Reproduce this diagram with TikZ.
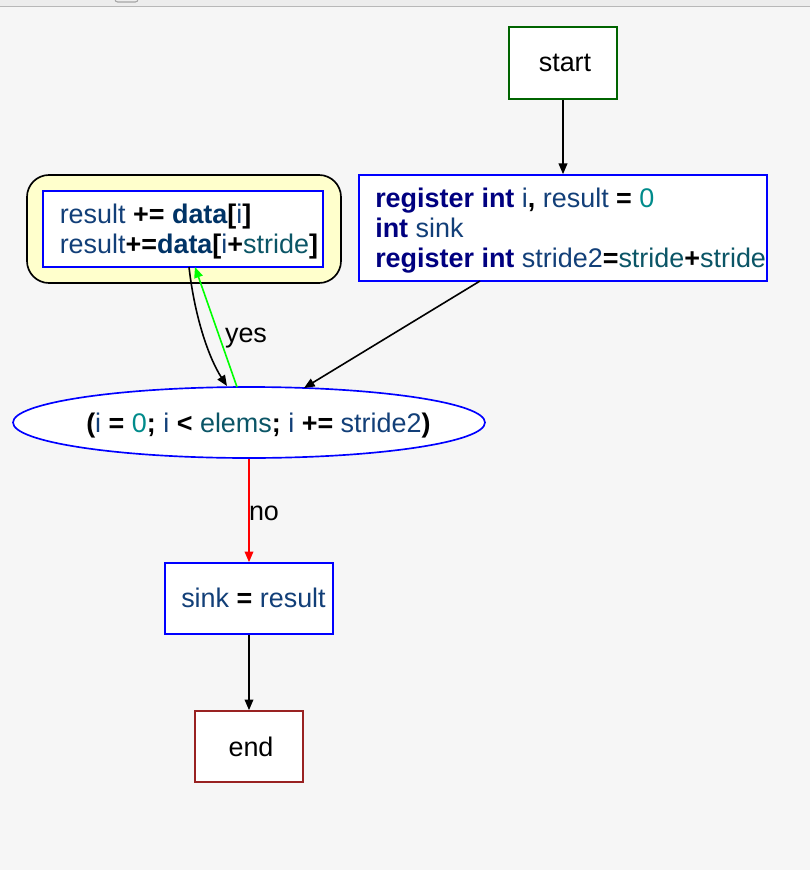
\documentclass[tikz,border=0pt]{standalone}
\usepackage{fontspec}
\setmainfont{Liberation Sans}
\usetikzlibrary{shapes.geometric,arrows.meta,positioning}
\definecolor{bg}{HTML}{F6F6F6}
\definecolor{kw}{HTML}{000080}
\definecolor{vr}{HTML}{123F78}
\definecolor{pr}{HTML}{0B5566}
\definecolor{nm}{HTML}{008B8B}
\definecolor{dt}{HTML}{003366}
\definecolor{startc}{HTML}{006400}
\definecolor{endc}{HTML}{992222}
\definecolor{loopfill}{HTML}{FFFFCC}
\newcommand{\K}[1]{\textbf{\textcolor{kw}{#1}}}
\newcommand{\V}[1]{\textcolor{vr}{#1}}
\newcommand{\Pm}[1]{\textcolor{pr}{#1}}
\newcommand{\N}[1]{\textcolor{nm}{#1}}
\newcommand{\Op}[1]{\textbf{#1}}
\newcommand{\D}[1]{\textbf{\textcolor{dt}{#1}}}
\begin{document}
\begin{tikzpicture}[x=0.75pt,y=-0.75pt,
  every node/.style={font=\fontsize{20.2}{22.5}\selectfont, inner sep=0pt},
  box/.style={draw, line width=1.25pt, fill=white, rectangle},
  bluebox/.style={box, draw=blue},
  txt/.style={anchor=base west, inner sep=0pt},
  arr/.style={line width=1.2pt, -{Triangle[length=8pt,width=6.5pt]}},
  lab/.style={inner sep=0pt}]
% background
\fill[bg] (0,0) rectangle (810,870);
\useasboundingbox (0,0) rectangle (810,870);
\fill[black!7] (0,0) rectangle (810,6);
\draw[black!28, line width=1.1pt] (0,6.5) -- (810,6.5);
\draw[black!35, line width=0.8pt, rounded corners=2pt] (115,0) -- (115,2) -- (138,2) -- (138,0);

% nodes
\node[box, draw=startc, minimum width=81pt, minimum height=54pt] (start) at (563,63) {\hspace{3pt}start};
\node[bluebox, minimum width=306pt, minimum height=79.5pt] (reg) at (563,228) {};
\node[txt] (regtxt) at (375,207.5) {\begin{tabular}[t]{@{}l@{}}
\K{register int} \V{i}\Op{,} \V{result} \Op{=} \N{0}\\
\K{int} \V{sink}\\
\K{register int} \V{stride2}\Op{=}\Pm{stride}\Op{+}\Pm{stride}
\end{tabular}};

\node[box, draw=black, fill=loopfill, rounded corners=16.5pt, minimum width=235.5pt, minimum height=81pt] (loop) at (184,229) {};
\node[bluebox, minimum width=210pt, minimum height=57pt] (body) at (183,229) {};
\node[txt] (bodytxt) at (59.5,223.5) {\begin{tabular}[t]{@{}l@{}}
\V{result} \Op{+=} \D{data}\Op{[}\V{i}\Op{]}\\
\V{result}\Op{+=}\D{data}\Op{[}\V{i}\Op{+}\Pm{stride}\Op{]}
\end{tabular}};

\node[ellipse, draw=blue, line width=1.25pt, fill=white, minimum width=354pt, minimum height=53.25pt] (cond) at (249,422.5) {};
\node[txt] (condtxt) at (86,432.5) {\Op{(}\V{i} \Op{=} \N{0}\Op{;} \V{i} \Op{<} \Pm{elems}\Op{;} \V{i} \Op{+=} \V{stride2}\Op{)}};

\node[bluebox, minimum width=126pt, minimum height=53.25pt] (sink) at (249,598.5) {};
\node[txt] (sinktxt) at (181,607) {\V{sink} \Op{=} \V{result}};

\node[box, draw=endc, minimum width=81pt, minimum height=53.25pt] (end) at (249,746.5) {\hspace{3pt}end};

% coordinates on borders
\coordinate (regout) at (480,281);
\coordinate (condin) at (304,388);
\coordinate (bodyout) at (189,267);
\coordinate (condin2) at (227,386);
\coordinate (condout2) at (237,387);
\coordinate (bodyin) at (195,267);

% edges
\draw[arr] (start) -- (reg);
\draw[arr] (regout) -- (condin);
\draw[arr] (bodyout) .. controls (195,320) and (210,360) .. (condin2);
\draw[arr, draw=green, -{Triangle[length=8pt,width=6.5pt,fill=green]}] (condout2) -- (bodyin);
\draw[arr, draw=red] (cond) -- (sink);
\draw[arr] (sink) -- (end);

\node[lab] (yes) at (246,338) {yes};
\node[lab] (no) at (264,513) {no};
\end{tikzpicture}
\end{document}
